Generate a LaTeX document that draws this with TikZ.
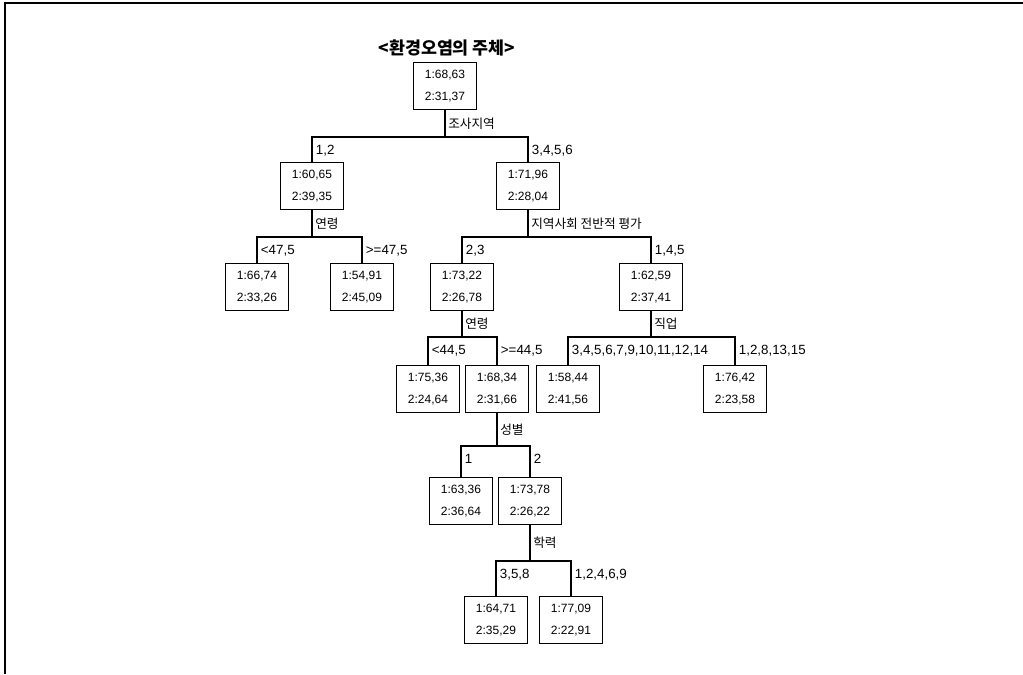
\documentclass[tikz,border=0pt]{standalone}
\usepackage{fontspec}
\setmainfont{Liberation Sans}
\newfontfamily\kr{Noto Sans CJK KR}
\usepackage{tikz}
\tikzstyle{leaf}=[draw,line width=1.2pt,minimum width=47pt,minimum height=35pt,inner sep=0pt,align=center,font=\fontsize{9}{16}\selectfont]
\tikzstyle{edge} = [draw,line width=0.9pt]
\tikzstyle{crit} = [anchor=west,inner sep=2pt,font=\kr\fontsize{9.5}{11}\selectfont]
\tikzstyle{branch} = [pos=0.5,anchor=north west,inner sep=2.5pt,yshift=-3pt,font=\fontsize{10}{11}\selectfont]

\begin{document}
\begin{tikzpicture}[x=0.75pt,y=-0.75pt]
						\useasboundingbox (0,0) rectangle (1023,674);
						% the frame of the scan
						\draw[line width=1pt] (5,674) -- (5,3) -- (1023,3);
						\node[font=\kr\bfseries\fontsize{13}{15}\selectfont] (title) at (447,48) {<환경오염의 주체>};

						% First we draw the boxes
						\foreach \pos/\name/\one/\two in {{(445,86)/root/68,63/31,37},
								{(312,186)/n1/60,65/39,35}, {(528,186)/n2/71,96/28,04},
								{(257,287)/n11/66,74/33,26}, {(362,287)/n12/54,91/45,09},
								{(462,287)/n21/73,22/26,78}, {(651,287)/n22/62,59/37,41},
								{(428,389)/n211/75,36/24,64}, {(497,389)/n212/68,34/31,66},
								{(568,389)/n221/58,44/41,56}, {(735,389)/n222/76,42/23,58},
								{(461,501)/n2121/63,36/36,64}, {(530,501)/n2122/73,78/26,22},
								{(496,620)/n21221/64,71/35,29}, {(571,620)/n21222/77,09/22,91}}
						\node[leaf] (\name) at \pos {1:\one\\2:\two};

						% Connect every split and write its labels
						\foreach \src/\ca/\cb/\by/\crit/\la/\lb in {root/n1/n2/137/조사지역/{1,2}/{3,4,5,6},
								n1/n11/n12/237/연령/{<47,5}/{>=47,5},
								n2/n21/n22/237/지역사회 전반적 평가/{2,3}/{1,4,5},
								n21/n211/n212/337/연령/{<44,5}/{>=44,5},
								n22/n221/n222/337/직업/{3,4,5,6,7,9,10,11,12,14}/{1,2,8,13,15},
								n212/n2121/n2122/446/성별/1/2,
								n2122/n21221/n21222/561/학력/{3,5,8}/{1,2,4,6,9}}
						{
							\coordinate (s\src) at (\src.south |- 0,\by);
							\path[edge] (\src) -- node[crit] {\crit} (s\src);
							\path[edge] (s\src) -| node[branch] {\la} (\ca);
							\path[edge] (s\src) -| node[branch] {\lb} (\cb);
						}
					\end{tikzpicture}
\end{document}
